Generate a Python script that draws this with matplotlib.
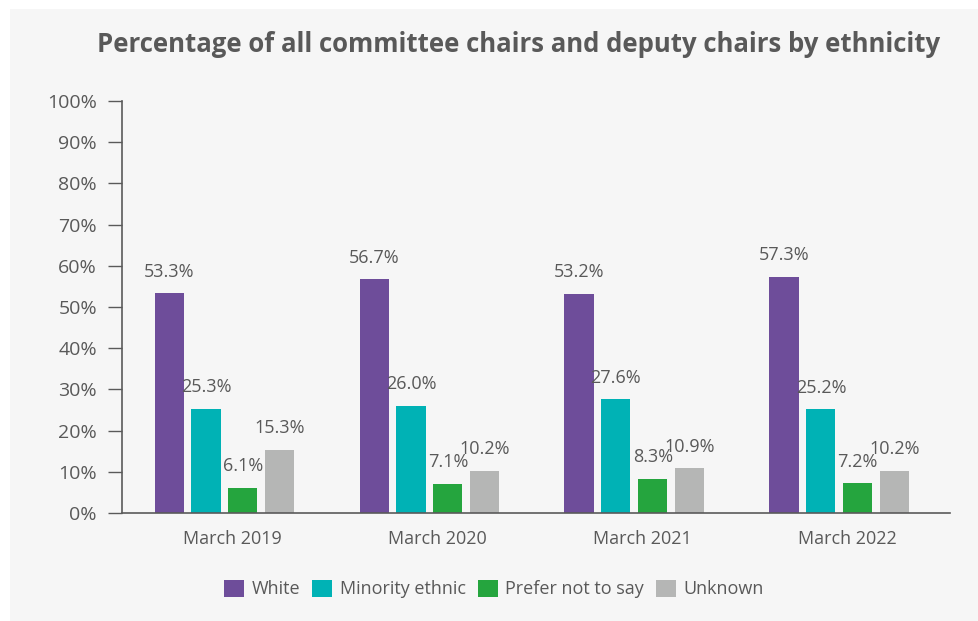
import numpy as np
import matplotlib.pyplot as plt
from matplotlib.patches import Rectangle

# %% Daten
years = ["March 2019", "March 2020", "March 2021", "March 2022"]
groups = ["White", "Minority ethnic", "Prefer not to say", "Unknown"]
white = [53.3, 56.7, 53.2, 57.3]
minority = [25.3, 26.0, 27.6, 25.2]
prefer_not = [6.1, 7.1, 8.3, 7.2]
unknown = [15.3, 10.2, 10.9, 10.2]
colors = ["#6e4d9a", "#00b2b5", "#25a53e", "#b5b6b5"]

txt = "#595959"
bg = "#f6f6f6"
plt.rcParams["font.family"] = ["Open Sans", "DejaVu Sans"]

fig = plt.figure(figsize=(9.79, 6.21), dpi=100)
fig.patches.append(Rectangle((10 / 979, 0), 1, 1 - 9 / 621, transform=fig.transFigure,
                             facecolor=bg, edgecolor="none", zorder=-10))

ax = fig.add_axes([122 / 979, 1 - 513 / 621, (950 - 122) / 979, (513 - 101) / 621])
ax.set_facecolor("none")

x = np.arange(len(years))
step = 0.18
width = 0.142
for i, (vals, name) in enumerate(zip([white, minority, prefer_not, unknown], groups)):
    pos = x + (i - 1.5) * step
    bars = ax.bar(pos, vals, width, color=colors[i], label=name)
    ax.bar_label(bars, labels=[f"{v:.1f}%" for v in vals], padding=9,
                 fontsize=13, color=txt)

ax.set_xlim(-0.5, 3.54)
ax.set_ylim(0, 100)
ax.set_yticks(np.arange(0, 101, 10))
ax.set_yticklabels([f"{t}%" for t in range(0, 101, 10)])
ax.set_xticks(x + 0.04)
ax.set_xticklabels(years)
ax.tick_params(axis="y", colors=txt, labelsize=14, length=10, width=1, direction="out", pad=8)
ax.tick_params(axis="y", color="#5a5a5a")
ax.tick_params(axis="x", colors=txt, labelsize=13, length=0, pad=12)
for s in ["top", "right"]:
    ax.spines[s].set_visible(False)
for s in ["left", "bottom"]:
    ax.spines[s].set_color("#5a5a5a")
    ax.spines[s].set_linewidth(1.2)

fig.text(519 / 979, 1 - 44 / 621, "Percentage of all committee chairs and deputy chairs by ethnicity",
         ha="center", va="center", fontsize=18.5, fontweight="bold", color=txt)

fig.legend(loc="center", bbox_to_anchor=(494 / 979, 1 - 589 / 621), ncol=4, frameon=False,
           fontsize=13, labelcolor=txt, handlelength=1.1, handleheight=1.1,
           handletextpad=0.42, columnspacing=0.67)

plt.savefig("out.png", dpi=100, facecolor="white")
